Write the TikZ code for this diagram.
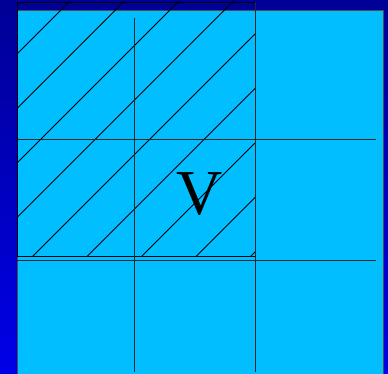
\documentclass[tikz,border=0pt]{standalone}
\usepackage{fontspec}
\setmainfont{Liberation Serif}
\definecolor{panelblue}{RGB}{0,190,255}
\definecolor{navytop}{RGB}{0,0,150}
\definecolor{navybottom}{RGB}{0,0,232}
\tikzset{
  gridline/.style={line width=0.9pt, black!85},
  hatchline/.style={line width=0.8pt, black},
}
\begin{document}
\begin{tikzpicture}[x=1pt, y=-1pt]
  \useasboundingbox (0,0) rectangle (388,374);
  % background and panel
  \shade[top color=navytop, bottom color=navybottom] (0,0) rectangle (388,374);
  \fill[panelblue] (17,10) rectangle (383,374);
  \draw[black!70, line width=0.8pt] (17,374) -- (17,10) -- (383,10) -- (383,374);
  % hatched region
  \begin{scope}
    \clip (17,2) rectangle (255,256);
    \foreach \c in {71,125.5,...,510}
      \draw[hatchline] (\c,0) -- ({\c-262},262);
  \end{scope}
  \draw[hatchline] (17,2) rectangle (255,256);
  % grid
  \draw[gridline] (134,18) -- (134,372);
  \draw[gridline] (255,2) -- (255,372);
  \draw[gridline] (17,139) -- (376,139);
  \draw[gridline] (17,260) -- (376,260);
  \node[font=\fontsize{64}{64}\selectfont] (vlabel) at (200,194) {V};
\end{tikzpicture}
\end{document}
